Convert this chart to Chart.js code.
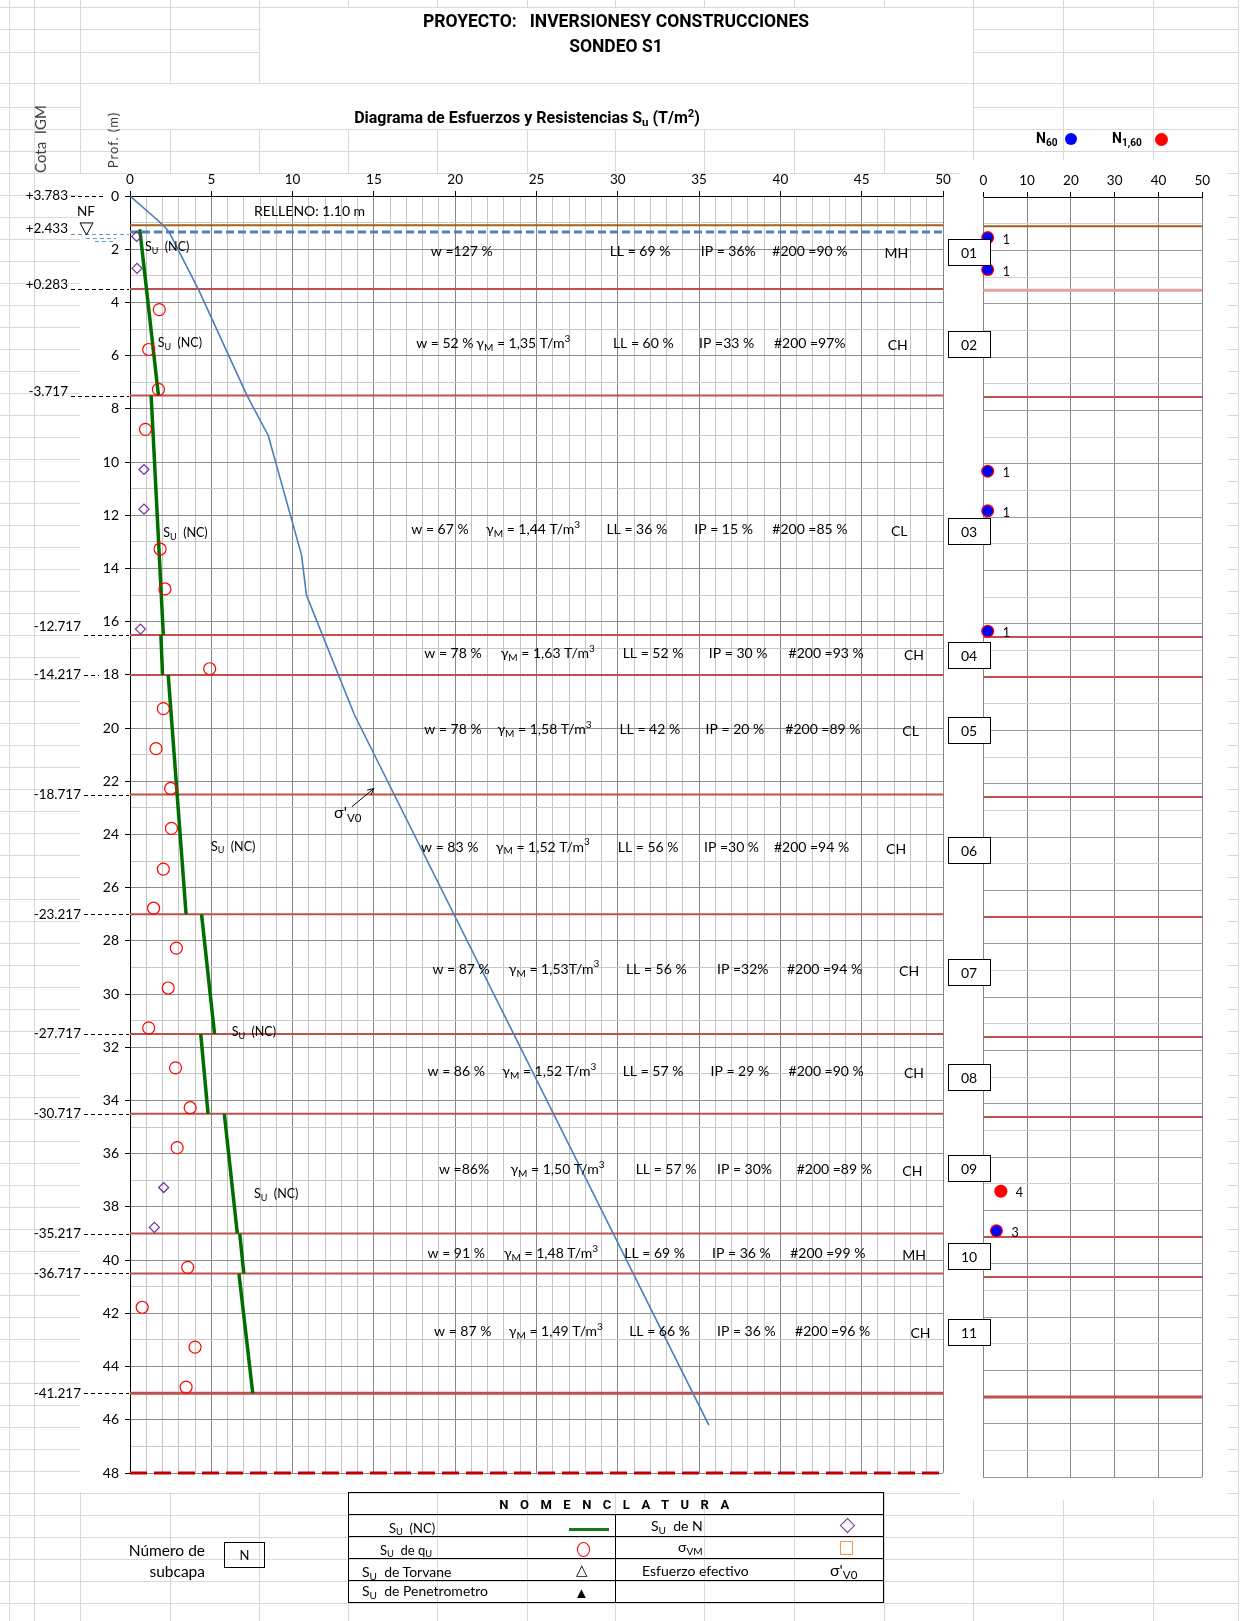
<!DOCTYPE html>
<html>
<head>
<meta charset="utf-8">
<title>Sondeo S1</title>
<script src="https://cdn.jsdelivr.net/npm/chart.js@4.4.1/dist/chart.umd.min.js"></script>
<style>
  body { margin:0; width:1248px; height:1621px; position:relative; overflow:hidden; background:#fff;
         font-family: Lato, "Liberation Sans", sans-serif; color:#000; }
  canvas, .white, .lbl, .ln { position:absolute; }
  #sheet { left:0; top:0; z-index:0; }
  .white { background:#fff; z-index:1; }
  #cRight { left:960px; top:160px; z-index:2; }
  #cMain { left:0; top:160px; z-index:3; }
  .lbl { white-space:nowrap; line-height:1; z-index:4; }
  .ln { z-index:4; }
  sub { font-size:72%; vertical-align:-0.25em; line-height:0; }
  sup { font-size:70%; vertical-align:0.55em; line-height:0; }
  .b { font-weight:bold; font-family: Roboto, "Liberation Sans", sans-serif; }
  .t14 { font-size:14px; }
</style>
</head>
<body>
<canvas id="sheet" width="1248" height="1621"></canvas>
<div class="white" style="left:80px;top:174px;width:880px;height:1318px"></div>
<div class="white" style="left:960px;top:160px;width:268px;height:1335px"></div>
<canvas id="cRight" width="268" height="1340"></canvas>
<canvas id="cMain" width="1000" height="1340"></canvas>

<!-- titles -->
<div class="lbl b" style="left:259px;top:13px;width:714px;text-align:center;font-size:17.5px">PROYECTO:&nbsp;&nbsp; INVERSIONESY CONSTRUCCIONES</div>
<div class="lbl b" style="left:259px;top:38px;width:714px;text-align:center;font-size:17.5px">SONDEO S1</div>
<div class="lbl b" style="left:277px;top:110px;width:500px;text-align:center;font-size:16px">Diagrama de Esfuerzos y Resistencias S<sub>u</sub> (T/m<sup>2</sup>)</div>
<div class="lbl" style="left:40px;top:139px;transform:translate(-50%,-50%) rotate(-90deg);font-size:15px;color:#404040">Cota&nbsp; IGM</div>
<div class="lbl" style="left:113px;top:140px;transform:translate(-50%,-50%) rotate(-90deg);font-size:13px;letter-spacing:1px;color:#404040">Prof. (m)</div>

<!-- legend of the N chart -->
<div class="lbl b" style="left:1036px;top:131px;font-size:14px">N<sub>60</sub></div>
<div class="ln" style="left:1065px;top:133px;width:12px;height:12px;border-radius:50%;background:#0000ff"></div>
<div class="lbl b" style="left:1112px;top:131px;font-size:14px">N<sub>1,60</sub></div>
<div class="ln" style="left:1155px;top:133px;width:13px;height:13px;border-radius:50%;background:#ff0000"></div>

<!-- nomenclature table -->
<div class="ln" style="left:348px;top:1492px;width:536px;height:111px;border:1.5px solid #000;box-sizing:border-box"></div>
<div class="ln" style="left:348px;top:1514px;width:536px;border-top:1.5px solid #000"></div>
<div class="ln" style="left:348px;top:1536px;width:536px;border-top:1.5px solid #000"></div>
<div class="ln" style="left:348px;top:1558px;width:536px;border-top:1.5px solid #000"></div>
<div class="ln" style="left:348px;top:1580px;width:536px;border-top:1.5px solid #000"></div>
<div class="ln" style="left:615px;top:1514px;height:89px;border-left:1.5px solid #000"></div>
<div class="lbl b" style="left:352px;top:1498px;width:536px;text-align:center;font-size:13px;letter-spacing:11.5px">NOMENCLATURA</div>

<div class="lbl" style="left:389px;top:1522px;font-size:13px">S<sub>U</sub>&nbsp; (NC)</div>
<div class="ln" style="left:569px;top:1528px;width:40px;height:3px;background:#1a7a1a"></div>
<div class="lbl t14" style="left:651px;top:1519px">S<sub>U</sub>&nbsp; de N</div>
<div class="ln" style="left:842px;top:1520px;width:9px;height:9px;border:1.5px solid #7030a0;transform:rotate(45deg)"></div>

<div class="lbl" style="left:380px;top:1544px;font-size:13px">S<sub>U</sub>&nbsp; de q<sub>U</sub></div>
<div class="ln" style="left:577px;top:1542px;width:11px;height:13px;border:1.5px solid #ff0000;border-radius:50%"></div>
<div class="lbl t14" style="left:678px;top:1540px">σ<sub>VM</sub></div>
<div class="ln" style="left:840px;top:1541px;width:11px;height:12px;border:1.5px solid #f79646"></div>

<div class="lbl t14" style="left:362px;top:1565px">S<sub>U</sub>&nbsp; de Torvane</div>
<div class="lbl" style="left:576px;top:1562px;font-size:15px">△</div>
<div class="lbl t14" style="left:642px;top:1564px">Esfuerzo efectivo</div>
<div class="lbl" style="left:830px;top:1562px;font-size:16px">σ'<sub>V0</sub></div>

<div class="lbl t14" style="left:362px;top:1584px">S<sub>U</sub>&nbsp; de Penetrometro</div>
<div class="lbl" style="left:574px;top:1585px;font-size:15px">▲</div>

<div class="lbl" style="left:85px;top:1543px;width:120px;text-align:right;font-size:15.5px">Número de</div>
<div class="lbl" style="left:85px;top:1564px;width:120px;text-align:right;font-size:15.5px">subcapa</div>
<div class="lbl" style="left:224px;top:1542px;width:41px;height:26px;border:1px solid #000;box-sizing:border-box;text-align:center;line-height:24px;font-size:13px">N</div>

<script>
// ---- data (depth in m, resistance/stress in T/m2) ----
// effective stress sigma'v0
var sigDepth = [0, 1.1, 1.35, 3.5, 7.5, 9.0, 13.5, 15.0, 19.5, 46.2];
var sigValue = [0, 2.05, 2.4, 4.2, 7.2, 8.5, 10.55, 10.85, 13.8, 35.6];

// Su (NC) segments, one per sublayer
var suTopDepth = [1.25, 7.5, 16.5, 18, 27, 31.5, 34.5, 39, 40.5];
var suBotDepth = [7.5, 16.5, 18, 27, 31.5, 34.5, 39, 40.5, 45];
var suTopValue = [0.6, 1.3, 1.9, 2.35, 4.4, 4.35, 5.8, 6.75, 6.7];
var suBotValue = [1.75, 2.05, 2.0, 3.45, 5.2, 4.8, 6.6, 7.0, 7.55];

// Su from qu (circles)
var quDepth = [4.27, 5.77, 7.27, 8.77, 13.27, 14.77, 17.77, 19.27, 20.77, 22.27, 23.77, 25.3,
               26.77, 28.27, 29.77, 31.27, 32.77, 34.27, 35.77, 40.27, 41.77, 43.27, 44.77];
var quValue = [1.8, 1.15, 1.75, 0.95, 1.85, 2.15, 4.9, 2.05, 1.6, 2.5, 2.55, 2.05,
               1.45, 2.85, 2.35, 1.15, 2.8, 3.7, 2.9, 3.55, 0.75, 4.0, 3.45];

// Su from N (diamonds)
var suNDepth = [1.52, 2.72, 10.28, 11.77, 16.28, 37.27, 38.77];
var suNValue = [0.41, 0.43, 0.86, 0.86, 0.64, 2.07, 1.5];

// SPT
var nDepth = [1.52, 2.72, 10.28, 11.77, 16.28, 37.28, 38.77];
var n60 = [1, 1, 1, 1, 1, null, 3];
var n160 = [1, 1, 1, 1, 1, 4, 3];

// stratigraphy
var rellenoDepth = 1.1;
var nfDepth = 1.35;
var boundDepth = [3.5, 7.5, 16.5, 18, 22.5, 27, 31.5, 34.5, 39, 40.5, 45];
var bottomDepth = 48;
var cotaDepth = [0, 1.35, 3.5, 7.5, 16.5, 18, 22.5, 27, 31.5, 34.5, 39, 40.5, 45];
var cotaLbl = ['+3.783', '+2.433', '+0.283', '-3.717', '-12.717', '-14.217', '-18.717',
               '-23.217', '-27.717', '-30.717', '-35.217', '-36.717', '-41.217'];

// sublayer properties
var subcapa = ['01', '02', '03', '04', '05', '06', '07', '08', '09', '10', '11'];
var wTxt = ['w =127 %', 'w = 52 %', 'w = 67 %', 'w = 78 %', 'w = 78 %', 'w = 83 %', 'w = 87 %', 'w = 86 %', 'w =86%', 'w = 91 %', 'w = 87 %'];
var gamTxt = [null, '1,35 T/m³', '1,44 T/m³', '1,63 T/m³', '1,58 T/m³', '1,52 T/m³', '1,53T/m³', '1,52 T/m³', '1,50 T/m³', '1,48 T/m³', '1,49 T/m³'];
var llTxt = ['LL = 69 %', 'LL = 60 %', 'LL = 36 %', 'LL = 52 %', 'LL = 42 %', 'LL = 56 %', 'LL = 56 %', 'LL = 57 %', 'LL = 57 %', 'LL = 69 %', 'LL = 66 %'];
var ipTxt = ['IP = 36%', 'IP =33 %', 'IP = 15 %', 'IP = 30 %', 'IP = 20 %', 'IP =30 %', 'IP =32%', 'IP = 29 %', 'IP = 30%', 'IP = 36 %', 'IP = 36 %'];
var p200Txt = ['#200 =90 %', '#200 =97%', '#200 =85 %', '#200 =93 %', '#200 =89 %', '#200 =94 %', '#200 =94 %', '#200 =90 %', '#200 =89 %', '#200 =99 %', '#200 =96 %'];
var sucs = ['MH', 'CH', 'CL', 'CH', 'CL', 'CH', 'CH', 'CH', 'CH', 'MH', 'CH'];

// ---- where the texts go (axis units) ----
var rowAt = [2.08, 5.54, 12.54, 17.2, 20.04, 24.47, 29.06, 32.9, 36.6, 39.76, 42.67];
var boxAt = [2.09, 5.55, 12.58, 17.26, 20.07, 24.6, 29.17, 33.1, 36.55, 39.84, 42.7];
var colAt = [
  [18.5, null, 29.5, 35.1, 39.5, 46.4],
  [17.6, 21.3, 29.7, 35.0, 39.6, 46.6],
  [17.3, 21.9, 29.3, 34.7, 39.5, 46.8],
  [18.1, 22.8, 30.3, 35.6, 40.5, 47.6],
  [18.1, 22.6, 30.1, 35.4, 40.3, 47.5],
  [17.9, 22.5, 30.0, 35.3, 39.6, 46.5],
  [18.6, 23.3, 30.5, 36.1, 40.4, 47.3],
  [18.3, 22.9, 30.3, 35.7, 40.5, 47.6],
  [19.0, 23.4, 31.1, 36.1, 41.0, 47.5],
  [18.3, 23.0, 30.4, 35.8, 40.6, 47.5],
  [18.7, 23.3, 30.7, 36.1, 40.9, 48.0]
];
var suLblAt = [[0.92, 1.93], [1.7, 5.54], [2.05, 12.68], [4.98, 24.46], [6.25, 31.42], [7.63, 37.52]];
var cotaDy = [0, -3, -4, -4, -8, 0, 0, 0, 0, 0, 0, 0, 0];

var FONT = 'Lato, "Liberation Sans", sans-serif';
Chart.defaults.font.family = FONT;
Chart.defaults.color = '#000';

// spreadsheet grid behind the charts
function drawSheet() {
  var g = document.getElementById('sheet').getContext('2d');
  g.strokeStyle = '#d9d9d9';
  g.lineWidth = 1;
  var rows = [7, 29, 52, 83];
  for (var r = 107.3; r < 1621; r += 21.99) rows.push(r);
  var cols = [9, 34, 80, 170, 259, 348, 437, 527, 615, 704, 794, 884, 973, 1063, 1153, 1238];
  g.beginPath();
  rows.forEach(function (r) { var yy = Math.round(r) + 0.5; g.moveTo(0, yy); g.lineTo(1238, yy); });
  cols.forEach(function (c) { g.moveTo(c + 0.5, 0); g.lineTo(c + 0.5, 1621); });
  g.stroke();
  g.fillStyle = '#fff';
  g.fillRect(260, 8, 713, 75);
  g.fillRect(81, 84, 892, 45);
}
drawSheet();

// text with sub/superscript parts: [[text, ''|'sub'|'sup'], ...]
function rich(ctx, parts, x0, y0, size) {
  var cx = x0;
  parts.forEach(function (p) {
    var fs = p[1] ? size * 0.72 : size;
    ctx.font = fs + 'px ' + FONT;
    var dy = p[1] === 'sub' ? size * 0.3 : (p[1] === 'sup' ? -size * 0.35 : 0);
    ctx.fillText(p[0], cx, y0 + dy);
    cx += ctx.measureText(p[0]).width;
  });
  return cx;
}

function hLine(d, color, width, dash, order) {
  return { type: 'scatter', data: [{ x: 0, y: d }, { x: 50, y: d }], showLine: true, borderColor: color,
           borderWidth: width, borderDash: dash || [], pointRadius: 0, order: order, clip: false };
}

// ---- main chart datasets ----
var mainSets = [];
boundDepth.forEach(function (d, i) {
  mainSets.push(hLine(d, '#c0504d', i === boundDepth.length - 1 ? 3 : 2, null, 10));
});
mainSets.push(hLine(bottomDepth, '#c00000', 3, [17, 7], 10));
mainSets.push(hLine(rellenoDepth, '#a65e1e', 2, null, 9));
mainSets.push(hLine(nfDepth, '#4f81bd', 3, [8, 4], 9));
mainSets.push({
  data: sigDepth.map(function (d, i) { return { x: sigValue[i], y: d }; }),
  showLine: true, borderColor: '#4a7ebb', borderWidth: 1.6, pointRadius: 0, order: 5
});
suTopDepth.forEach(function (d, i) {
  mainSets.push({
    data: [{ x: suTopValue[i], y: d }, { x: suBotValue[i], y: suBotDepth[i] }],
    showLine: true, borderColor: '#006e00', borderWidth: 3.5, pointRadius: 0, order: 4
  });
});
mainSets.push({
  data: quDepth.map(function (d, i) { return { x: quValue[i], y: d }; }),
  pointStyle: 'circle', pointRadius: 6, pointBorderColor: '#ff0000', pointBackgroundColor: 'rgba(0,0,0,0)',
  pointBorderWidth: 1.2, order: 2
});
mainSets.push({
  data: suNDepth.map(function (d, i) { return { x: suNValue[i], y: d }; }),
  pointStyle: 'rectRot', pointRadius: 5, pointBorderColor: '#7030a0', pointBackgroundColor: 'rgba(0,0,0,0)',
  pointBorderWidth: 1.2, order: 1
});

var mainNotes = {
  id: 'mainNotes',
  afterDatasetsDraw: function (chart) {
    var ctx = chart.ctx, x = chart.scales.x, y = chart.scales.y;
    var fs = 14;
    ctx.save();
    ctx.fillStyle = '#000';
    ctx.textBaseline = 'middle';
    ctx.textAlign = 'left';
    rowAt.forEach(function (d, i) {
      var py = y.getPixelForValue(d), c = colAt[i];
      ctx.font = fs + 'px ' + FONT;
      ctx.fillText(wTxt[i], x.getPixelForValue(c[0]), py);
      if (gamTxt[i]) {
        var g = gamTxt[i].replace('³', '');
        rich(ctx, [['γ', ''], ['M', 'sub'], [' = ' + g, ''], ['3', 'sup']], x.getPixelForValue(c[1]), py, fs);
      }
      ctx.font = fs + 'px ' + FONT;
      ctx.fillText(llTxt[i], x.getPixelForValue(c[2]), py);
      ctx.fillText(ipTxt[i], x.getPixelForValue(c[3]), py);
      ctx.fillText(p200Txt[i], x.getPixelForValue(c[4]), py);
      ctx.fillText(sucs[i], x.getPixelForValue(c[5]), py + 2);
    });
    suLblAt.forEach(function (p) {
      rich(ctx, [['S', ''], ['U', 'sub'], ['  (NC)', '']], x.getPixelForValue(p[0]), y.getPixelForValue(p[1]), 12.5);
    });
    ctx.font = '14px ' + FONT;
    ctx.fillText('RELLENO: 1.10 m', x.getPixelForValue(7.63), y.getPixelForValue(0.59));
    // sigma'v0 label and arrow
    rich(ctx, [["σ'", ''], ['V0', 'sub']], x.getPixelForValue(12.55), y.getPixelForValue(23.2), 16);
    var ax0 = x.getPixelForValue(13.64), ay0 = y.getPixelForValue(22.96);
    var ax1 = x.getPixelForValue(15.0), ay1 = y.getPixelForValue(22.27);
    var ang = Math.atan2(ay1 - ay0, ax1 - ax0);
    ctx.strokeStyle = '#000';
    ctx.lineWidth = 1;
    ctx.beginPath();
    ctx.moveTo(ax0, ay0); ctx.lineTo(ax1, ay1);
    ctx.moveTo(ax1 - 7 * Math.cos(ang - 0.45), ay1 - 7 * Math.sin(ang - 0.45));
    ctx.lineTo(ax1, ay1);
    ctx.lineTo(ax1 - 7 * Math.cos(ang + 0.45), ay1 - 7 * Math.sin(ang + 0.45));
    ctx.stroke();
    ctx.restore();
  },
  afterDraw: function (chart) {
    var ctx = chart.ctx, y = chart.scales.y, a = chart.chartArea;
    ctx.save();
    ctx.textBaseline = 'middle';
    // elevation labels with dashed leaders
    cotaDepth.forEach(function (d, i) {
      var py = y.getPixelForValue(d);
      var txt = cotaLbl[i];
      var right = txt.length > 6 ? 81 : 68;
      ctx.font = '13.5px ' + FONT;
      ctx.textAlign = 'right';
      ctx.fillStyle = '#000';
      ctx.fillText(txt, right, py + cotaDy[i]);
      var end = (d % 2 === 0) ? (d >= 10 ? 99 : 106) : a.left - 1;
      ctx.beginPath();
      ctx.setLineDash([4, 3]);
      ctx.lineWidth = 1;
      ctx.strokeStyle = i === 1 ? '#5b9bd5' : '#000';
      var ly = Math.round(py) + 0.5 + (i === 1 ? 2 : 0);
      ctx.moveTo(right + 3, ly); ctx.lineTo(end, ly);
      if (i === 1) {
        ctx.moveTo(86, ly + 4); ctx.lineTo(116, ly + 4);
        ctx.moveTo(95, ly + 7); ctx.lineTo(116, ly + 7);
      }
      ctx.stroke();
    });
    ctx.setLineDash([]);
    // water table symbol
    var ny = y.getPixelForValue(nfDepth);
    ctx.strokeStyle = '#000';
    ctx.lineWidth = 1;
    ctx.beginPath();
    ctx.moveTo(80, ny - 9); ctx.lineTo(93, ny - 9); ctx.lineTo(86.5, ny + 3); ctx.closePath();
    ctx.stroke();
    ctx.fillStyle = '#000';
    ctx.textAlign = 'center';
    ctx.font = '13.5px ' + FONT;
    ctx.fillText('NF', 86, ny - 20);
    // sublayer boxes
    boxAt.forEach(function (d, i) {
      var py = Math.round(y.getPixelForValue(d));
      ctx.fillStyle = '#fff';
      ctx.fillRect(948, py - 13, 42, 26);
      ctx.strokeStyle = '#000';
      ctx.strokeRect(948.5, py - 12.5, 42, 26);
      ctx.fillStyle = '#000';
      ctx.font = '14px ' + FONT;
      ctx.fillText(subcapa[i], 969, py + 1);
    });
    ctx.restore();
  }
};

new Chart(document.getElementById('cMain'), {
  type: 'scatter',
  data: { datasets: mainSets },
  options: {
    responsive: false,
    animation: false,
    layout: { padding: { left: 0, right: 57, top: 0, bottom: 27 } },
    plugins: { legend: { display: false }, tooltip: { enabled: false } },
    scales: {
      x: {
        type: 'linear', position: 'top', min: 0, max: 50,
        afterFit: function (s) { s.height = 36; },
        ticks: { stepSize: 1, autoSkip: false, maxRotation: 0, padding: 3, color: '#000', font: { size: 13.5 },
                 callback: function (v) { return v % 5 === 0 ? v : ''; } },
        grid: {
          color: function (c) { return c.tick && c.tick.value % 5 === 0 ? '#868686' : '#c4c4c4'; },
          tickColor: function (c) { return c.tick && c.tick.value % 5 === 0 ? '#000' : 'rgba(0,0,0,0)'; },
          tickLength: 5
        },
        border: { color: '#000', width: 1 }
      },
      y: {
        type: 'linear', reverse: true, min: 0, max: 48,
        afterFit: function (s) { s.width = 130; },
        ticks: { stepSize: 1, autoSkip: false, padding: 6, color: '#000', font: { size: 14 },
                 callback: function (v) { return v % 2 === 0 ? v : ''; } },
        grid: {
          color: function (c) { return c.tick && c.tick.value % 2 === 0 ? '#8c8c8c' : '#c8c8c8'; },
          tickColor: function (c) { return c.tick && c.tick.value % 2 === 0 ? '#000' : 'rgba(0,0,0,0)'; },
          tickLength: 5
        },
        border: { color: '#000', width: 1 }
      }
    }
  },
  plugins: [mainNotes]
});

// ---- right chart (SPT) ----
var rightSets = [];
boundDepth.forEach(function (d, i) {
  var col = i === 0 ? '#e3a2a0' : '#c0504d';
  rightSets.push(hLine(d, col, i === 0 || i === boundDepth.length - 1 ? 3 : 2, null, 10));
});
rightSets.push(hLine(rellenoDepth, '#a65e1e', 2, null, 9));
rightSets.push({
  data: nDepth.map(function (d, i) { return { x: n160[i], y: d }; }).filter(function (p) { return p.x !== null; }),
  pointStyle: 'circle', pointRadius: 6.5, pointBackgroundColor: '#ff0000', pointBorderColor: '#ff0000',
  pointBorderWidth: 0, order: 3, clip: false
});
rightSets.push({
  data: nDepth.map(function (d, i) { return { x: n60[i], y: d }; }).filter(function (p) { return p.x !== null; }),
  pointStyle: 'circle', pointRadius: 5.3, pointBackgroundColor: '#0000ff', pointBorderColor: '#0000ff',
  pointBorderWidth: 0, order: 2, clip: false
});

var rightNotes = {
  id: 'rightNotes',
  afterDatasetsDraw: function (chart) {
    var ctx = chart.ctx, x = chart.scales.x, y = chart.scales.y;
    ctx.save();
    ctx.fillStyle = '#000';
    ctx.textBaseline = 'middle';
    ctx.textAlign = 'left';
    ctx.font = '12.5px ' + FONT;
    nDepth.forEach(function (d, i) {
      var v = n60[i] !== null ? n60[i] : n160[i];
      ctx.fillText(String(v), x.getPixelForValue(v) + 15, y.getPixelForValue(d) + 2);
    });
    ctx.restore();
  }
};

new Chart(document.getElementById('cRight'), {
  type: 'scatter',
  data: { datasets: rightSets },
  options: {
    responsive: false,
    animation: false,
    layout: { padding: { left: 0, right: 25.7, top: 0, bottom: 23 } },
    plugins: { legend: { display: false }, tooltip: { enabled: false } },
    scales: {
      x: {
        type: 'linear', position: 'top', min: 0, max: 50,
        afterFit: function (s) { s.height = 37; },
        ticks: { stepSize: 10, padding: 3, color: '#000', font: { size: 13.5 } },
        grid: { color: '#868686', tickColor: '#000', tickLength: 5 },
        border: { color: '#000', width: 1 }
      },
      y: {
        type: 'linear', reverse: true, min: 0, max: 48,
        afterFit: function (s) { s.width = 23.3; },
        ticks: { stepSize: 1, autoSkip: false, display: false },
        grid: {
          color: function (c) { return c.tick && c.tick.value % 2 === 0 ? '#9a9a9a' : '#cfcfcf'; },
          tickColor: 'rgba(0,0,0,0)', tickLength: 0
        },
        border: { color: '#868686', width: 1 }
      }
    }
  },
  plugins: [rightNotes]
});
</script>
</body>
</html>
